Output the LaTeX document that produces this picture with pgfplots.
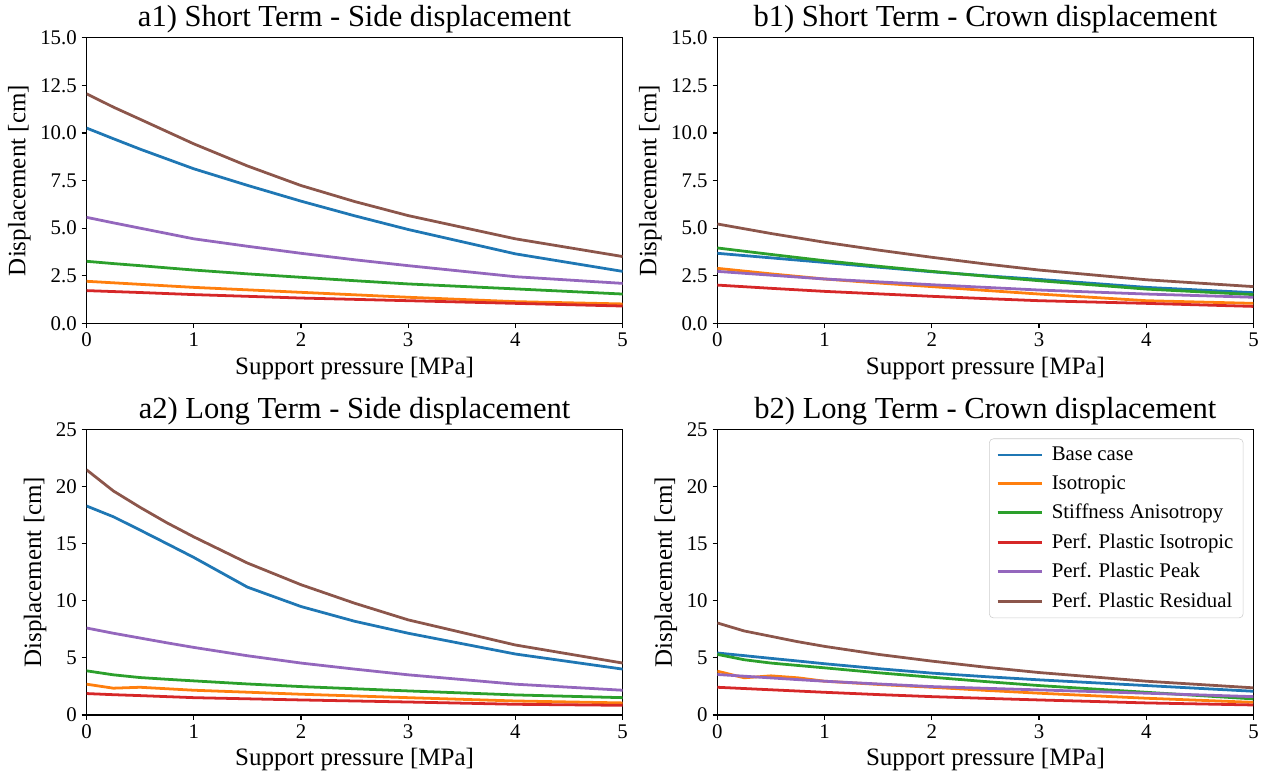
\documentclass[border=0pt]{standalone}
\usepackage{pgfplots}
\usepackage{pgfplotstable}
\pgfplotsset{compat=1.18}
\usepackage{fontspec}
\setmainfont{Liberation Serif}
\definecolor{tabblue}{HTML}{1F77B4}
\definecolor{taborange}{HTML}{FF7F0E}
\definecolor{tabgreen}{HTML}{2CA02C}
\definecolor{tabred}{HTML}{D62728}
\definecolor{tabpurple}{HTML}{9467BD}
\definecolor{tabbrown}{HTML}{8C564B}

\pgfplotstableread{
x base iso stiff ppiso pppeak ppres
0 10.26 2.21 3.26 1.72 5.57 12.06
0.25 9.70 2.13 3.14 1.67 5.28 11.36
0.5 9.15 2.05 3.03 1.62 5.00 10.72
1 8.12 1.89 2.80 1.51 4.44 9.43
1.5 7.25 1.76 2.60 1.42 4.05 8.27
2 6.42 1.63 2.42 1.33 3.68 7.24
2.5 5.65 1.50 2.24 1.26 3.34 6.40
3 4.93 1.37 2.07 1.19 3.03 5.66
4 3.65 1.14 1.81 1.05 2.45 4.44
5 2.73 1.02 1.54 0.91 2.10 3.51
}\tabAone

\pgfplotstableread{
x base iso stiff ppiso pppeak ppres
0 3.68 2.89 3.96 2.01 2.73 5.22
0.5 3.44 2.60 3.62 1.84 2.53 4.72
1 3.20 2.33 3.29 1.68 2.33 4.26
1.5 2.95 2.12 3.00 1.55 2.18 3.85
2 2.71 1.93 2.73 1.42 2.03 3.47
2.5 2.50 1.73 2.48 1.30 1.89 3.12
3 2.31 1.54 2.24 1.19 1.75 2.80
4 1.89 1.19 1.80 1.05 1.54 2.29
5 1.61 1.05 1.51 0.89 1.37 1.93
}\tabBone

\pgfplotstableread{
x base iso stiff ppiso pppeak ppres
0 18.30 2.70 3.87 1.88 7.62 21.47
0.25 17.36 2.35 3.52 1.78 7.16 19.62
0.5 16.19 2.43 3.28 1.70 6.74 18.18
0.75 15.00 2.30 3.13 1.61 6.32 16.83
1 13.80 2.17 2.99 1.52 5.92 15.60
1.5 11.20 2.00 2.72 1.42 5.19 13.31
2 9.50 1.82 2.49 1.32 4.55 11.41
2.5 8.21 1.67 2.30 1.23 4.02 9.79
3 7.16 1.52 2.11 1.14 3.52 8.33
4 5.34 1.23 1.76 0.94 2.70 6.13
5 4.02 1.06 1.52 0.85 2.17 4.55
}\tabAtwo

\pgfplotstableread{
x base iso stiff ppiso pppeak ppres
0 5.43 3.84 5.31 2.43 3.55 8.06
0.25 5.20 3.26 4.84 2.32 3.40 7.36
0.5 4.96 3.43 4.55 2.21 3.25 6.89
0.75 4.73 3.26 4.34 2.10 3.10 6.42
1 4.49 2.96 4.13 1.99 2.96 6.01
1.5 4.06 2.68 3.70 1.79 2.72 5.31
2 3.67 2.43 3.31 1.61 2.49 4.72
2.5 3.36 2.16 2.93 1.46 2.34 4.19
3 3.08 1.91 2.58 1.32 2.20 3.72
4 2.58 1.47 1.99 1.06 1.91 2.96
5 2.08 1.11 1.41 0.88 1.61 2.38
}\tabBtwo

\pgfplotsset{
  panel/.style={
    scale only axis, width=386pt, height=205.6pt,
    anchor=south west,
    xmin=0, xmax=5, xtick={0,1,2,3,4,5},
    tick align=outside, tick pos=left,
    major tick length=3.5pt,
    every tick/.style={black, line width=0.8pt},
    axis line style={line width=0.8pt},
    xlabel={Support pressure [MPa]},
    ylabel={Displacement [cm]},
    label style={font=\fontsize{18}{21}\selectfont},
    tick label style={font=\fontsize{15}{18}\selectfont},
    title style={font=\fontsize{22}{26}\selectfont, inner sep=0pt},
    every axis title shift=3pt,
    /pgf/number format/assume math mode=true,
    cycle list={tabblue\\taborange\\tabgreen\\tabred\\tabpurple\\tabbrown\\},
    every axis plot/.append style={line width=2pt, line join=round, no markers},
  },
  shortterm/.style={ymin=0, ymax=15, ytick={0,2.5,5,7.5,10,12.5,15},
    yticklabel style={/pgf/number format/.cd, fixed, fixed zerofill, precision=1}},
  longterm/.style={ymin=0, ymax=25, ytick={0,5,10,15,20,25}},
}

\begin{document}
\begin{tikzpicture}
\path[use as bounding box] (0,0) rectangle (911.52pt,558.72pt);

\begin{axis}[panel, shortterm, at={(62.3pt,325.9pt)}, title={a1) Short Term - Side displacement}]
\addplot table[x=x,y=base] {\tabAone};
\addplot table[x=x,y=iso] {\tabAone};
\addplot table[x=x,y=stiff] {\tabAone};
\addplot table[x=x,y=ppiso] {\tabAone};
\addplot table[x=x,y=pppeak] {\tabAone};
\addplot table[x=x,y=ppres] {\tabAone};
\end{axis}

\begin{axis}[panel, shortterm, at={(516.5pt,325.9pt)}, title={b1) Short Term - Crown displacement}]
\addplot table[x=x,y=base] {\tabBone};
\addplot table[x=x,y=iso] {\tabBone};
\addplot table[x=x,y=stiff] {\tabBone};
\addplot table[x=x,y=ppiso] {\tabBone};
\addplot table[x=x,y=pppeak] {\tabBone};
\addplot table[x=x,y=ppres] {\tabBone};
\end{axis}

\begin{axis}[panel, longterm, at={(62.3pt,43.9pt)}, title={a2) Long Term - Side displacement}]
\addplot table[x=x,y=base] {\tabAtwo};
\addplot table[x=x,y=iso] {\tabAtwo};
\addplot table[x=x,y=stiff] {\tabAtwo};
\addplot table[x=x,y=ppiso] {\tabAtwo};
\addplot table[x=x,y=pppeak] {\tabAtwo};
\addplot table[x=x,y=ppres] {\tabAtwo};
\end{axis}

\begin{axis}[panel, longterm, at={(516.5pt,43.9pt)}, title={b2) Long Term - Crown displacement},
  legend cell align=left,
  legend image code/.code={\draw[#1, line width=2pt] (0pt,0pt) -- (32pt,0pt);},
  legend style={at={(1,1)}, anchor=north east, xshift=-7.2pt, yshift=-6.5pt,
    draw=black!20, rounded corners=3pt, fill=white, fill opacity=0.8, text opacity=1,
    font=\fontsize{15}{18}\selectfont, row sep=5.2pt, inner xsep=5pt, inner ysep=4pt,
    /tikz/every odd column/.append style={column sep=4pt}}]
\addplot table[x=x,y=base] {\tabBtwo};
\addlegendentry{Base case}
\addplot table[x=x,y=iso] {\tabBtwo};
\addlegendentry{Isotropic}
\addplot table[x=x,y=stiff] {\tabBtwo};
\addlegendentry{Stiffness Anisotropy}
\addplot table[x=x,y=ppiso] {\tabBtwo};
\addlegendentry{Perf. Plastic Isotropic}
\addplot table[x=x,y=pppeak] {\tabBtwo};
\addlegendentry{Perf. Plastic Peak}
\addplot table[x=x,y=ppres] {\tabBtwo};
\addlegendentry{Perf. Plastic Residual}
\end{axis}
\end{tikzpicture}
\end{document}
